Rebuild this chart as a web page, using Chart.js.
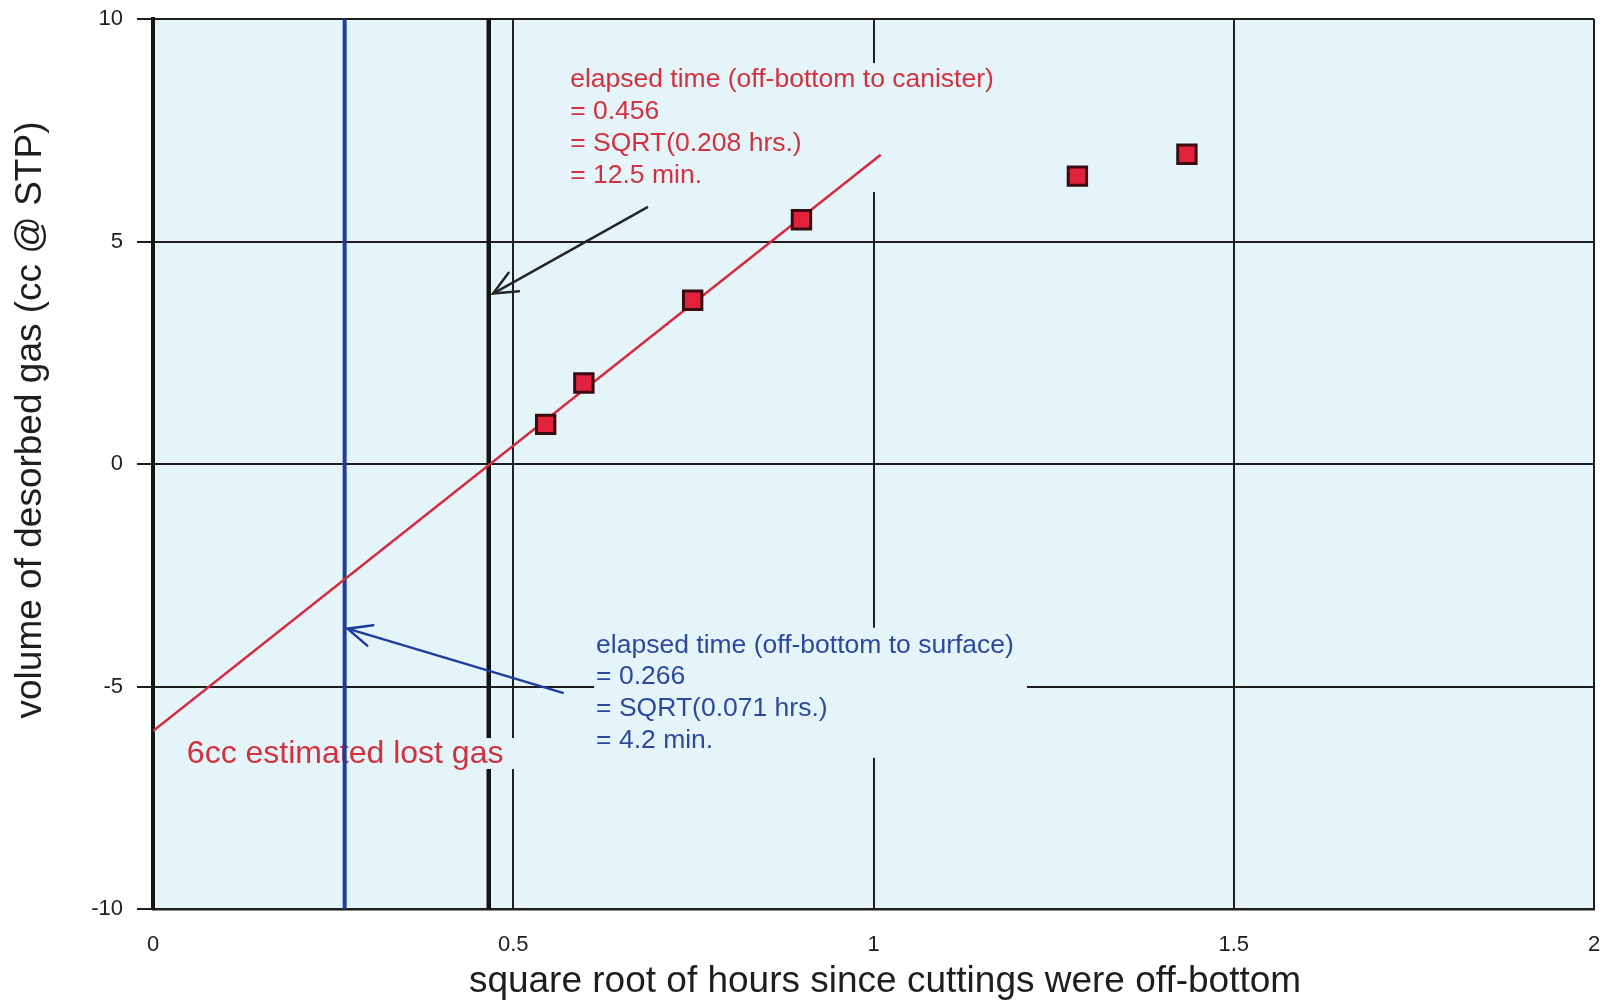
<!DOCTYPE html>
<html>
<head>
<meta charset="utf-8">
<script src="https://cdn.jsdelivr.net/npm/chart.js@4.4.1/dist/chart.umd.min.js"></script>
<style>
  html, body { margin: 0; padding: 0; background: #ffffff; }
  #wrap { width: 1604px; height: 1008px; position: relative; }
</style>
</head>
<body>
<div id="wrap"><canvas id="c"></canvas></div>
<script>
// ---- data ----
const xTickValues = [0, 0.5, 1, 1.5, 2];
const yTickValues = [-10, -5, 0, 5, 10];
const sqrtHours = [0.545, 0.598, 0.749, 0.900, 1.283, 1.435];
const gasVolume = [0.89, 1.82, 3.68, 5.49, 6.47, 6.96];
const fitX = [0, 1.01];
const fitY = [-6, 6.95];
const surfaceX = [0.266, 0.266];
const canisterX = [0.466, 0.466];
const verticalY = [-10, 10];
const arrowCanisterX = [0.687, 0.472];
const arrowCanisterY = [5.78, 3.83];
const arrowSurfaceX = [0.570, 0.270];
const arrowSurfaceY = [-5.15, -3.70];
const xTitle = 'square root of hours since cuttings were off-bottom';
const yTitle = 'volume of desorbed gas (cc @ STP)';
const canisterText = ['elapsed time (off-bottom to canister)', '= 0.456', '= SQRT(0.208 hrs.)', '= 12.5 min.'];
const surfaceText = ['elapsed time (off-bottom to surface)', '= 0.266', '= SQRT(0.071 hrs.)', '= 4.2 min.'];
const lostGasText = ['6cc estimated lost gas'];

// ---- styles ----
const FONT = '"Liberation Sans", Arial, Helvetica, sans-serif';
const PLOT_BG = '#e4f4f9';
const RED = '#d8283c';
const RED_TEXT = '#d3313f';
const BLUE = '#1f3d9c';
const BLUE_TEXT = '#2c4a9c';
const INK = '#1e1e1e';

function pts(xs, ys) { return xs.map((x, i) => ({ x: x, y: ys[i] })); }

// annotation blocks: anchor in data units (left x, first baseline y)
const notes = [
  { lines: canisterText, ax: 0.579, ay: 8.47, size: 26.5, step: 32, color: RED_TEXT, box: [-8, -24, 10, 9] },
  { lines: surfaceText, ax: 0.615, ay: -4.24, size: 26.5, step: 31.7, color: BLUE_TEXT, box: [-2, -25, 13, 10] },
  { lines: lostGasText, ax: 0.047, ay: -6.72, size: 32, step: 0, color: RED_TEXT, box: [-6, -25, 17, 6] }
];

const annotPlugin = {
  id: 'annot',
  beforeDraw(chart) {
    const a = chart.chartArea, ctx = chart.ctx;
    ctx.save();
    ctx.fillStyle = PLOT_BG;
    ctx.fillRect(a.left, a.top, a.right - a.left, a.bottom - a.top);
    ctx.restore();
  },
  beforeDatasetDraw(chart, args) {
    if (args.index !== 2) return; // just before the blue surface line
    const ctx = chart.ctx, xs = chart.scales.x, ys = chart.scales.y;
    ctx.save();
    notes.forEach(n => {
      ctx.font = n.size + 'px ' + FONT;
      const px = xs.getPixelForValue(n.ax);
      const py = ys.getPixelForValue(n.ay);
      let w = 0;
      n.lines.forEach(l => { w = Math.max(w, ctx.measureText(l).width); });
      const h = n.step * (n.lines.length - 1);
      ctx.fillStyle = PLOT_BG;
      ctx.fillRect(px + n.box[0], py + n.box[1], w - n.box[0] + n.box[2], h - n.box[1] + n.box[3]);
      ctx.fillStyle = n.color;
      ctx.textBaseline = 'alphabetic';
      ctx.textAlign = 'left';
      n.lines.forEach((l, i) => ctx.fillText(l, px, py + i * n.step));
    });
    ctx.restore();
  },
  afterDatasetsDraw(chart) {
    const ctx = chart.ctx, xs = chart.scales.x, ys = chart.scales.y;
    const heads = [
      { x: arrowCanisterX, y: arrowCanisterY, color: '#262626' },
      { x: arrowSurfaceX, y: arrowSurfaceY, color: BLUE }
    ];
    ctx.save();
    heads.forEach(hd => {
      const x0 = xs.getPixelForValue(hd.x[0]), y0 = ys.getPixelForValue(hd.y[0]);
      const x1 = xs.getPixelForValue(hd.x[1]), y1 = ys.getPixelForValue(hd.y[1]);
      const ang = Math.atan2(y1 - y0, x1 - x0);
      const L = 26, spread = 0.42;
      ctx.strokeStyle = hd.color;
      ctx.lineWidth = 2.5;
      ctx.lineCap = 'round';
      ctx.beginPath();
      ctx.moveTo(x1 - L * Math.cos(ang - spread), y1 - L * Math.sin(ang - spread));
      ctx.lineTo(x1, y1);
      ctx.lineTo(x1 - L * Math.cos(ang + spread), y1 - L * Math.sin(ang + spread));
      ctx.stroke();
    });
    ctx.restore();
  },
  afterDraw(chart) {
    const ctx = chart.ctx;
    ctx.save();
    ctx.fillStyle = INK;
    ctx.font = '37px ' + FONT;
    ctx.textAlign = 'center';
    ctx.textBaseline = 'alphabetic';
    ctx.fillText(xTitle, 885, 992);
    ctx.translate(41, 420);
    ctx.rotate(-Math.PI / 2);
    ctx.fillText(yTitle, 0, 0);
    ctx.restore();
  }
};

new Chart(document.getElementById('c'), {
  type: 'scatter',
  data: {
    datasets: [
      { label: 'desorbed gas', data: pts(sqrtHours, gasVolume), order: 1,
        pointStyle: 'rect', pointRadius: 13, pointHoverRadius: 13,
        backgroundColor: '#e2213c', borderColor: '#3a0c12', borderWidth: 3 },
      { label: 'fit', data: pts(fitX, fitY), order: 4, showLine: true,
        borderColor: RED, borderWidth: 2.5, pointRadius: 0 },
      { label: 'surface', data: pts(surfaceX, verticalY), order: 5, showLine: true,
        borderColor: BLUE, borderWidth: 4, pointRadius: 0 },
      { label: 'canister', data: pts(canisterX, verticalY), order: 6, showLine: true,
        borderColor: '#151515', borderWidth: 4.5, pointRadius: 0 },
      { label: 'arrow canister', data: pts(arrowCanisterX, arrowCanisterY), order: 3, showLine: true,
        borderColor: '#262626', borderWidth: 2.5, pointRadius: 0 },
      { label: 'arrow surface', data: pts(arrowSurfaceX, arrowSurfaceY), order: 2, showLine: true,
        borderColor: BLUE, borderWidth: 2.5, pointRadius: 0 }
    ]
  },
  options: {
    responsive: true,
    maintainAspectRatio: false,
    animation: false,
    events: [],
    layout: { autoPadding: false, padding: { left: 0, right: 10, top: 19, bottom: 0 } },
    plugins: { legend: { display: false }, tooltip: { enabled: false }, title: { display: false } },
    scales: {
      x: {
        type: 'linear', min: 0, max: 2,
        afterFit(s) { s.height = 99; s.paddingLeft = 0; s.paddingRight = 0; },
        afterBuildTicks(s) { s.ticks = xTickValues.map(v => ({ value: v })); },
        ticks: { color: INK, padding: 23, maxRotation: 0, font: { family: FONT, size: 22 },
                 callback: v => String(v) },
        grid: { color: '#1e1e1e', lineWidth: 2, drawTicks: false },
        border: { display: true, color: '#1e1e1e', width: 2.5 }
      },
      y: {
        type: 'linear', min: -10, max: 10,
        afterFit(s) { s.width = 153; s.paddingTop = 0; s.paddingBottom = 0; },
        afterBuildTicks(s) { s.ticks = yTickValues.map(v => ({ value: v })); },
        ticks: { color: INK, padding: 14, font: { family: FONT, size: 22 },
                 callback: v => String(v) },
        grid: { color: '#1e1e1e', lineWidth: 2, drawTicks: true, tickLength: 16, tickColor: '#1e1e1e', tickWidth: 2 },
        border: { display: true, color: '#151515', width: 4 }
      }
    }
  },
  plugins: [annotPlugin]
});
</script>
</body>
</html>
